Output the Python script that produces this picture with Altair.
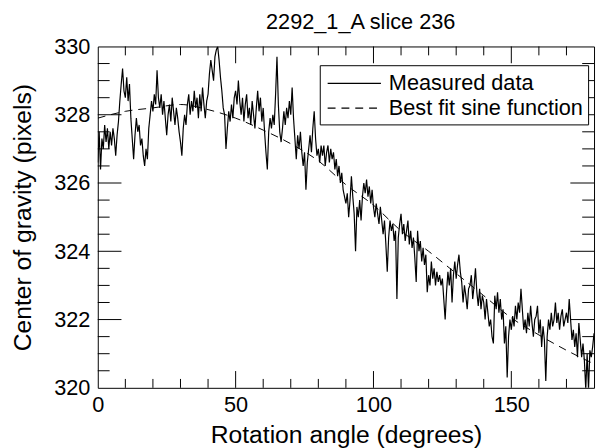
import altair as alt
import pandas as pd

# Measured centre of gravity, sampled every 0.5 degree (rows of 10 degrees)
m000 = [326.6, 327.5, 326.4, 327.3, 327.0, 327.7, 327.2, 327.6, 327.0, 327.5, 327.1, 327.6, 327.3, 326.8, 327.4, 327.8, 328.4, 328.9, 329.35, 328.7]
m010 = [328.5, 329.1, 328.4, 328.9, 327.9, 327.3, 326.7, 327.4, 327.9, 327.5, 327.7, 327.1, 327.3, 326.8, 326.5, 327.0, 326.7, 327.6, 328.0, 328.4]
m020 = [328.1, 328.6, 328.3, 329.3, 328.5, 328.2, 328.6, 328.0, 328.4, 327.9, 327.4, 328.0, 328.3, 327.8, 328.5, 328.1, 327.7, 328.2, 327.9, 327.5]
m030 = [327.2, 326.8, 327.6, 328.0, 327.7, 328.3, 328.6, 328.0, 328.4, 328.1, 328.7, 328.2, 328.5, 327.9, 328.6, 328.1, 328.8, 328.3, 327.9, 328.4]
m040 = [328.6, 329.2, 329.6, 329.3, 329.0, 329.7, 329.9, 330.0, 329.6, 329.1, 328.7, 328.2, 328.0, 327.0, 327.6, 328.1, 327.8, 328.3, 327.9, 328.5]
m050 = [328.7, 328.3, 329.0, 328.4, 328.0, 328.5, 327.8, 328.3, 328.6, 327.9, 328.2, 327.7, 328.4, 328.0, 327.6, 328.2, 328.7, 328.1, 328.5, 327.8]
m060 = [328.2, 327.5, 326.9, 326.4, 327.5, 327.9, 327.6, 328.0, 327.7, 328.6, 329.7, 328.3, 327.5, 327.2, 327.6, 328.1, 327.7, 328.2, 327.9, 328.4]
m070 = [328.0, 328.8, 327.9, 327.3, 326.7, 327.4, 327.0, 327.5, 326.9, 326.5, 326.9, 325.8, 326.6, 327.0, 327.4, 326.9, 327.6, 328.1, 327.3, 326.8]
m080 = [327.0, 326.6, 327.1, 326.8, 327.1, 326.5, 326.9, 327.1, 326.6, 327.0, 326.7, 326.9, 326.4, 326.7, 326.2, 326.5, 326.0, 326.3, 325.8, 325.6]
m090 = [325.4, 325.7, 325.0, 325.5, 326.2, 325.6, 325.1, 324.0, 325.3, 325.0, 325.5, 324.9, 325.6, 326.0, 325.7, 326.1, 325.6, 325.9, 325.4, 325.8]
m100 = [325.3, 325.0, 325.4, 325.1, 324.8, 325.3, 324.9, 324.5, 324.9, 324.2, 323.4, 324.4, 324.9, 324.6, 324.8, 324.3, 324.6, 322.6, 324.4, 324.8]
m110 = [325.1, 324.5, 324.8, 324.3, 324.6, 324.9, 324.2, 324.6, 324.1, 324.4, 323.8, 323.1, 324.6, 324.0, 324.3, 323.7, 324.1, 323.6, 323.9, 322.8]
m120 = [323.3, 323.0, 323.7, 323.2, 323.5, 323.0, 323.4, 323.1, 323.3, 323.0, 323.2, 322.6, 322.0, 322.8, 323.4, 323.0, 323.5, 322.5, 323.3, 323.7]
m130 = [323.2, 323.6, 323.9, 323.4, 323.1, 322.5, 323.0, 322.7, 322.3, 322.9, 323.0, 323.3, 322.6, 323.0, 323.5, 322.8, 322.4, 322.9, 322.3, 322.7]
m140 = [322.5, 322.0, 322.6, 322.2, 321.8, 322.0, 321.5, 321.3, 322.7, 322.3, 322.8, 322.2, 322.6, 322.0, 322.3, 321.3, 321.8, 320.3, 321.5, 322.0]
m150 = [321.7, 322.1, 321.8, 322.4, 322.0, 322.5, 322.2, 322.9, 322.3, 321.7, 322.0, 321.6, 322.2, 321.8, 322.4, 321.9, 321.5, 322.0, 322.1, 322.4]
m160 = [321.6, 322.0, 321.2, 321.8, 321.4, 320.2, 321.5, 322.0, 321.7, 322.2, 321.8, 322.0, 322.5, 321.9, 322.2, 321.7, 322.1, 322.3, 321.8, 322.0]
m170 = [322.2, 321.9, 322.6, 322.0, 321.4, 321.7, 321.2, 321.6, 320.9, 321.9, 321.4, 320.9, 321.3, 320.8, 319.95, 321.0, 319.95, 321.1, 320.9, 321.2, 321.6]

measured = (m000 + m010 + m020 + m030 + m040 + m050 + m060 + m070 + m080
            + m090 + m100 + m110 + m120 + m130 + m140 + m150 + m160 + m170)
measured_angle = [i * 0.5 for i in range(len(measured))]

# Best fit sine function, read every 10 degrees
fit_angle = [0, 10, 20, 30, 40, 50, 60, 70, 80, 90, 100, 110, 120, 130, 140, 150, 160, 170, 180]
fit_value = [327.9, 328.1, 328.2, 328.3, 328.15, 327.9, 327.55, 327.15, 326.65, 325.95,
             325.35, 324.6, 324.0, 323.35, 322.7, 322.05, 321.55, 321.1, 320.7]

x_labels = [0, 50, 100, 150]
x_minor = [10, 20, 30, 40, 60, 70, 80, 90, 110, 120, 130, 140, 160, 170]
y_labels = [320, 322, 324, 326, 328, 330]
y_major = [322, 324, 326, 328]
y_minor = [320.5, 321, 321.5, 322.5, 323, 323.5, 324.5, 325, 325.5,
           326.5, 327, 327.5, 328.5, 329, 329.5]

series_names = ["Measured data", "Best fit sine function"]

W, H = 503, 346
FONT = "Liberation Sans"

xs = alt.Scale(domain=[0, 180], nice=False, zero=False)
ys = alt.Scale(domain=[320, 330], nice=False, zero=False)

dash_scale = alt.Scale(domain=series_names, range=[[1, 0], [8, 6]])
legend = alt.Legend(
    title=None, orient="none", legendX=225, legendY=19,
    strokeColor="black", fillColor="white", padding=5,
    labelFontSize=22, labelFont=FONT, labelColor="black",
    symbolType="M-2.16,0H2.16", symbolSize=625, symbolStrokeWidth=1.2,
    symbolStrokeColor="black", symbolFillColor="transparent",
    symbolOffset=16.5, labelOffset=21.5, rowPadding=-1,
    labelLimit=400, labelExpr="datum.label + '\u00a0'",
)

df_m = pd.DataFrame({"angle": measured_angle, "value": measured, "series": series_names[0]})
df_f = pd.DataFrame({"angle": fit_angle, "value": fit_value, "series": series_names[1]})

x_axis = alt.Axis(values=x_labels, title="Rotation angle (degrees)", labelPadding=7,
                  titlePadding=7, labelFlush=False, labelOverlap=False)
y_axis = alt.Axis(values=y_labels, title="Center of gravity (pixels)", labelPadding=8,
                  titlePadding=18, labelFlush=False, labelOverlap=False)

line_m = alt.Chart(df_m).mark_line(color="black", strokeWidth=1.2, clip=True).encode(
    x=alt.X("angle:Q", scale=xs, axis=x_axis),
    y=alt.Y("value:Q", scale=ys, axis=y_axis),
    strokeDash=alt.StrokeDash("series:N", scale=dash_scale, legend=legend),
)
line_f = alt.Chart(df_f).mark_line(color="black", strokeWidth=1, interpolate="monotone", clip=True).encode(
    x=alt.X("angle:Q", scale=xs),
    y=alt.Y("value:Q", scale=ys),
    strokeDash=alt.StrokeDash("series:N", scale=dash_scale, legend=legend),
)

def xticks(vals, length):
    d = pd.DataFrame({"t": vals})
    bottom = alt.Chart(d).mark_rule(color="black", strokeWidth=1).encode(
        x=alt.X("t:Q", scale=xs), y=alt.value(H), y2=alt.value(H - length))
    top = alt.Chart(d).mark_rule(color="black", strokeWidth=1).encode(
        x=alt.X("t:Q", scale=xs), y=alt.value(0), y2=alt.value(length))
    return [bottom, top]

def yticks(vals, length):
    d = pd.DataFrame({"t": vals})
    left = alt.Chart(d).mark_rule(color="black", strokeWidth=1).encode(
        y=alt.Y("t:Q", scale=ys), x=alt.value(0), x2=alt.value(length))
    right = alt.Chart(d).mark_rule(color="black", strokeWidth=1).encode(
        y=alt.Y("t:Q", scale=ys), x=alt.value(W), x2=alt.value(W - length))
    return [left, right]

ticks = xticks(x_labels[1:], 17) + xticks(x_minor, 9) + yticks(y_major, 24) + yticks(y_minor, 12)

chart = alt.layer(*ticks, line_m, line_f).properties(
    width=W, height=H,
    autosize=alt.AutoSizeParams(type="none"),
    padding={"left": 91, "top": 36, "right": 2, "bottom": 58},
    title=alt.TitleParams("2292_1_A slice 236", fontSize=22, font=FONT, fontWeight="normal",
                          anchor="middle", frame="group", offset=2, dx=15, color="black"),
).configure_view(stroke="black", strokeWidth=1).configure_axis(
    domain=False, ticks=False, grid=False,
    labelFontSize=22, labelFont=FONT, labelColor="black",
    titleFontSize=25, titleFont=FONT, titleFontWeight="normal", titleColor="black",
)

chart.save("out.html", embed_options={"renderer": "svg", "actions": False})
